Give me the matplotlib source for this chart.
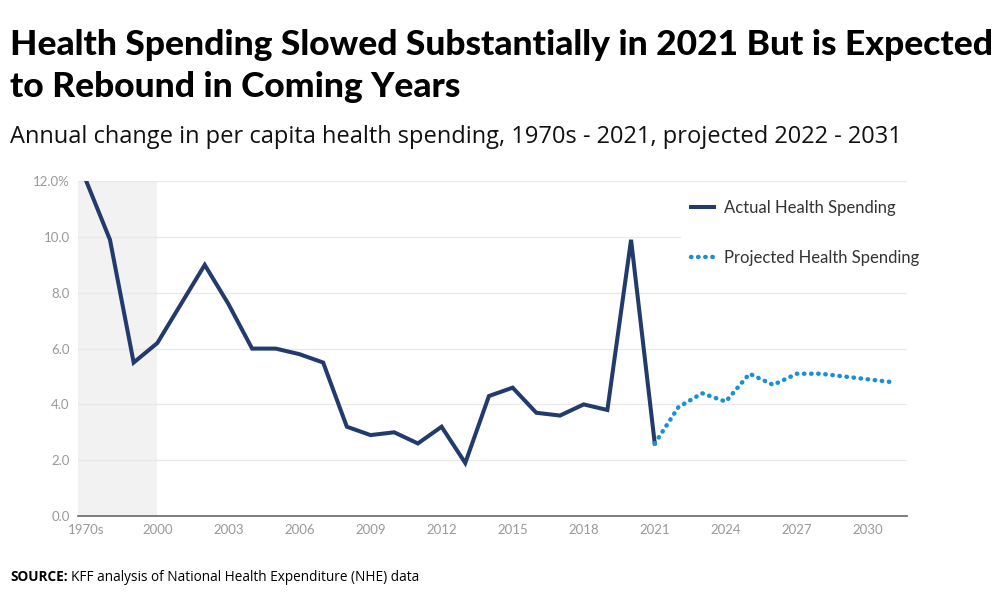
import matplotlib.pyplot as plt
import numpy as np

# Donnees
labels = ['1970s', '1980s', '1990s'] + [str(y) for y in range(2000, 2032)]
actual = [12.0, 9.9, 5.5, 6.2, 7.6, 9.0, 7.6, 6.0, 6.0, 5.8, 5.5, 3.2, 2.9, 3.0,
          2.6, 3.2, 1.9, 4.3, 4.6, 3.7, 3.6, 4.0, 3.8, 9.9, 2.6]
projected = [2.6, 3.9, 4.4, 4.1, 5.1, 4.7, 5.1, 5.1, 5.0, 4.9, 4.8]

x_actual = np.arange(len(actual))
x_proj = np.arange(len(actual) - 1, len(actual) - 1 + len(projected))

fig = plt.figure(figsize=(10, 6), dpi=100)
ax = fig.add_axes([0.078, 0.14, 0.829, 0.558])

# zone grisee pour les decennies
ax.axvspan(-0.35, 3, color='#f2f2f2', zorder=0, lw=0)

ax.plot(x_actual, actual, color='#223a6c', lw=2.9, solid_joinstyle='miter',
        label='Actual Health Spending', zorder=3)
ax.plot(x_proj, projected, color='#1a8fd4', lw=3.2, linestyle=(0, (0.1, 1.5)),
        dash_capstyle='round', label='Projected Health Spending', zorder=3)

ax.set_xlim(-0.35, 34.65)
ax.set_ylim(0, 12)
ax.set_yticks(np.arange(0, 13, 2))
ax.set_yticklabels(['0.0', '2.0', '4.0', '6.0', '8.0', '10.0', '12.0%'])
ticks = list(range(0, len(labels), 3))
ax.set_xticks(ticks)
ax.set_xticklabels([labels[i] for i in ticks])

ax.grid(axis='y', color='#e8e8e8', lw=0.9, zorder=1)
ax.set_axisbelow(True)
for s in ['top', 'right', 'left']:
    ax.spines[s].set_visible(False)
ax.spines['bottom'].set_color('#666666')
ax.spines['bottom'].set_linewidth(1.2)
ax.spines['bottom'].set_zorder(4)
ax.tick_params(length=0, labelsize=9.5, labelcolor='#999999', pad=6)
for t in ax.get_xticklabels() + ax.get_yticklabels():
    t.set_family('Lato')

leg = ax.legend(loc='upper left', bbox_to_anchor=(0.717, 1.0), frameon=True,
                facecolor='white', edgecolor='white', framealpha=1,
                fontsize=12, handlelength=1.4, labelspacing=2.05,
                borderpad=0.6, handletextpad=0.6)
leg.get_frame().set_linewidth(0)
for t in leg.get_texts():
    t.set_color('#333333')
    t.set_family('Lato')

fig.text(0.01, 0.89, 'Health Spending Slowed Substantially in 2021 But is Expected\nto Rebound in Coming Years',
         fontsize=25.5, fontweight='black', family='Lato', va='center', linespacing=1.42)
fig.text(0.01, 0.772, 'Annual change in per capita health spending, 1970s - 2021, projected 2022 - 2031',
         fontsize=17, family='Open Sans', color='#111111', va='center')
fig.text(0.01, 0.038, 'SOURCE:', fontsize=9.8, fontweight='bold', family='Open Sans', va='center')
fig.text(0.071, 0.038, 'KFF analysis of National Health Expenditure (NHE) data',
         fontsize=9.8, family='Open Sans', va='center')

plt.savefig('out.png', dpi=100)
